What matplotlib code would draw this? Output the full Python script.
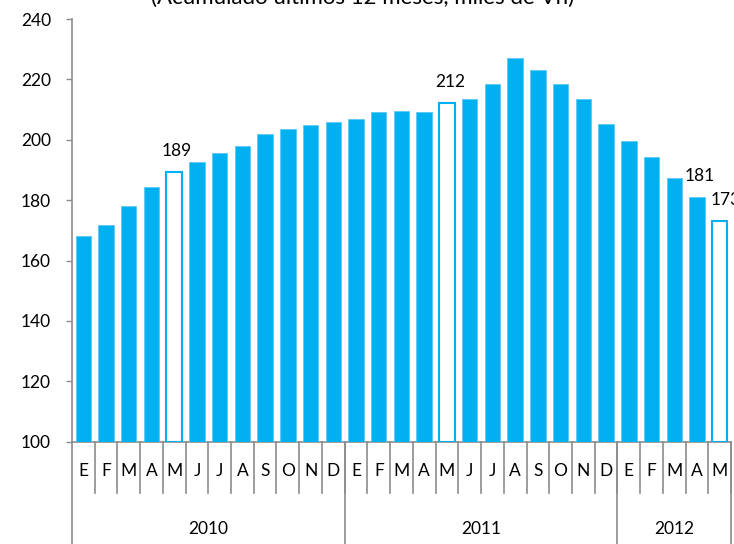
import matplotlib
matplotlib.use("Agg")
import matplotlib.pyplot as plt
import matplotlib.transforms as mtransforms

plt.rcParams['font.family'] = ['Lato', 'DejaVu Sans']

# monthly values, Jan 2010 - May 2012 (accumulated 12 months)
months = ['E', 'F', 'M', 'A', 'M', 'J', 'J', 'A', 'S', 'O', 'N', 'D',
          'E', 'F', 'M', 'A', 'M', 'J', 'J', 'A', 'S', 'O', 'N', 'D',
          'E', 'F', 'M', 'A', 'M']
values = [168.1, 171.7, 178.0, 184.3, 189.3, 192.7, 195.7, 197.9, 202.0, 203.6, 204.8, 205.9,
          207.0, 209.1, 209.4, 209.1, 212.3, 213.4, 218.5, 227.2, 223.2, 218.5, 213.4, 205.4,
          199.7, 194.2, 187.2, 181.2, 173.2]
years = ['2010', '2011', '2012']
year_counts = [12, 12, 5]
hollow = [4, 16, 28]          # bars drawn as outlines (May of each year)
labelled = [4, 16, 27, 28]    # bars with a value label

blue = '#00B0F0'
grey = '#8C8C8C'

fig = plt.figure(figsize=(7.34, 5.44), dpi=100)
ax = fig.add_axes([0.098, 0.188, 0.898, 0.777])

x = list(range(len(values)))
for i, v in zip(x, values):
    if i in hollow:
        ax.bar(i, v - 100, bottom=100, width=0.68, color='white', edgecolor=blue, linewidth=1.5, zorder=3)
    else:
        ax.bar(i, v - 100, bottom=100, width=0.68, color=blue, edgecolor='#5CC8F2', linewidth=0.6, zorder=3)

for i in labelled:
    dx = 4 if i == len(values) - 1 else 2
    ax.annotate(str(round(values[i])), (i, values[i]), xytext=(dx, 15), textcoords='offset points',
                ha='center', va='center', fontsize=12.5, color='black', annotation_clip=False)

ax.set_xlim(-0.5, len(values) - 0.5)
ax.set_ylim(100, 240)
ax.set_yticks(range(100, 241, 20))
ax.tick_params(axis='y', direction='out', length=4, width=1, color=grey, labelsize=12.5, pad=11)
ax.set_xticks([])
for s in ['top', 'right']:
    ax.spines[s].set_visible(False)
for s in ['left', 'bottom']:
    ax.spines[s].set_color(grey)
    ax.spines[s].set_linewidth(1.2)

# two-level category axis
trans = mtransforms.blended_transform_factory(ax.transData, ax.transAxes)
for i, m in enumerate(months):
    ax.text(i, -0.069, m, transform=trans, ha='center', va='center', fontsize=12.5)
    ax.plot([i + 0.5, i + 0.5], [0, -0.122], transform=trans, color=grey, lw=1.2, clip_on=False)

start = 0
edges = [-0.5]
for yr, n in zip(years, year_counts):
    ax.text(start + (n - 1) / 2, -0.207, yr, transform=trans, ha='center', va='center', fontsize=12.5)
    start += n
    edges.append(start - 0.5)
for e in edges:
    ax.plot([e, e], [0, -0.3], transform=trans, color=grey, lw=1.2, clip_on=False)

fig.text(0.494, 1 - 4 / 544, '(Acumulado últimos 12 meses, miles de Vh)', ha='center', va='baseline',
         fontsize=16)

fig.savefig('out.png', dpi=100)
